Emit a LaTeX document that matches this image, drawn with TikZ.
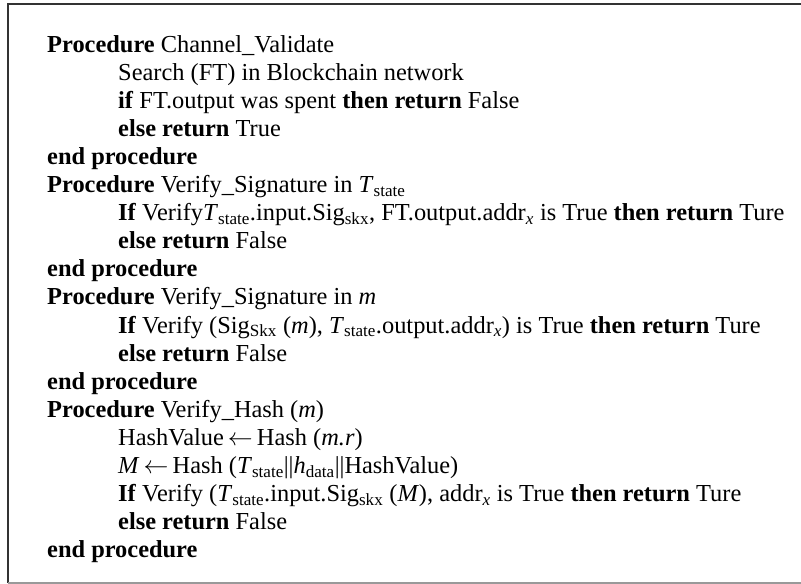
\documentclass[tikz,border=0pt]{standalone}
\usepackage{fontspec}
\setmainfont{Liberation Serif}
\newcommand{\Tst}{\textit{T}\textsubscript{state}}
\newcommand{\addrx}{addr\textsubscript{\textit{x}}}

\begin{document}
\begin{tikzpicture}[x=1pt,y=1pt,
  line/.style={anchor=base west, inner sep=0pt, font=\fontsize{24.4}{28}\selectfont}]
  \useasboundingbox (0,0) rectangle (801,-584);
  \draw[black!80, line width=1.4pt] (8,-583) -- (8,-4) -- (805,-4) ;
  \draw[black!40, line width=1.2pt] (8,-583) -- (805,-583) ;
  \foreach \n/\x/\t in {
    1/47/{\textbf{Procedure} Channel\_Validate},
    2/118/{Search (FT) in Blockchain network},
    3/118/{\textbf{if} FT.output was spent \textbf{then return} False},
    4/118/{\textbf{else return} True},
    5/47/{\textbf{end procedure}},
    6/47/{\textbf{Procedure} Verify\_Signature in \Tst},
    7/118/{\textbf{If} Verify\Tst.input.Sig\textsubscript{skx}, FT.output.\addrx{} is True \textbf{then return} Ture},
    8/118/{\textbf{else return} False},
    9/47/{\textbf{end procedure}},
    10/47/{\textbf{Procedure} Verify\_Signature in \textit{m}},
    11/118/{\textbf{If} Verify (Sig\textsubscript{Skx} (\textit{m}), \Tst.output.\addrx) is True \textbf{then return} Ture},
    12/118/{\textbf{else return} False},
    13/47/{\textbf{end procedure}},
    14/47/{\textbf{Procedure} Verify\_Hash (\textit{m})},
    15/118/{HashValue\,$\leftarrow$\,Hash (\textit{m.r})},
    16/118/{\textit{M}\,$\leftarrow$\,Hash (\Tst||\textit{h}\textsubscript{data}||HashValue)},
    17/118/{\textbf{If} Verify (\Tst.input.Sig\textsubscript{skx} (\textit{M}), \addrx{} is True \textbf{then return} Ture},
    18/118/{\textbf{else return} False},
    19/47/{\textbf{end procedure}}}
  {
    \node[line] (l\n) at (\x,{-52-28.1*(\n-1)}) {\t} ;
  }
\end{tikzpicture}
\end{document}
